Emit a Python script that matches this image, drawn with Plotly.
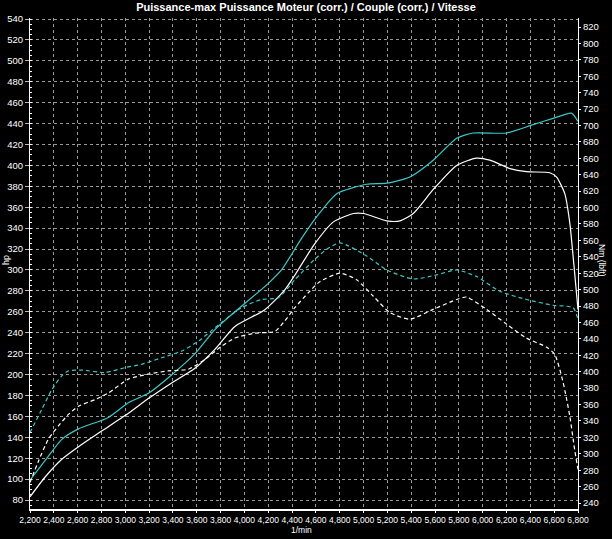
import plotly.graph_objects as go

# Power (hp, left axis)
rpm_pw_corr = [2200, 2355, 2467, 2607, 2858, 3026, 3193, 3361, 3585, 3752, 3920, 4199, 4311, 4478, 4607,
               4775, 5026, 5194, 5389, 5585, 5781, 5920, 6200, 6423, 6591, 6745, 6800]
hp_corr = [99, 122, 138, 148, 159, 173, 182, 197, 220, 243, 260, 287, 300, 330, 351,
           373, 382, 383, 389, 405, 426, 431, 431, 439, 445, 450, 442]

rpm_pw_eng = [2200, 2327, 2467, 2607, 2802, 3026, 3193, 3389, 3585, 3752, 3920, 4171, 4339, 4423, 4590,
              4747, 4914, 4998, 5194, 5306, 5417, 5585, 5781, 5948, 6060, 6228, 6367, 6563, 6619, 6689,
              6731, 6772, 6800]
hp_eng = [83, 102, 119, 131, 146, 163, 177, 192, 206, 224, 246, 262, 281, 295, 325,
          346, 354, 354, 347, 347, 354, 377, 400, 407, 405, 397, 394, 393, 389, 373,
          345, 297, 262]

# Torque (Nm, right axis)
rpm_tq_corr = [2200, 2299, 2383, 2467, 2523, 2634, 2830, 2998, 3137, 3305, 3472, 3612, 3808, 3975, 4143,
               4283, 4423, 4590, 4688, 4803, 5026, 5194, 5417, 5613, 5781, 5948, 6144, 6367, 6591, 6759, 6800]
nm_corr = [326, 354, 378, 395, 401, 402, 399, 405, 409, 417, 425, 437, 460, 478, 488,
           490, 512, 537, 549, 557, 541, 524, 513, 518, 524, 516, 498, 488, 481, 478, 464]

rpm_tq_eng = [2200, 2271, 2355, 2439, 2523, 2607, 2746, 2858, 3026, 3193, 3361, 3529, 3669, 3808, 3920,
              4087, 4255, 4339, 4423, 4535, 4635, 4803, 4942, 5082, 5222, 5389, 5585, 5781, 5864, 6032,
              6200, 6367, 6535, 6605, 6675, 6731, 6772, 6800]
nm_eng = [265, 291, 318, 334, 348, 358, 366, 374, 391, 397, 401, 403, 415, 431, 441,
          447, 449, 462, 478, 496, 510, 520, 512, 492, 472, 464, 476, 488, 491, 476,
          458, 441, 430, 421, 387, 346, 305, 281]

CYAN = "#3cc8c8"
WHITE = "#ffffff"
FONT = "Liberation Sans Narrow, Arial Narrow, Liberation Sans, Arial, sans-serif"

fig = go.Figure()
fig.add_trace(go.Scatter(x=rpm_pw_corr, y=hp_corr, mode="lines",
                         line=dict(color=CYAN, width=1.2, shape="spline", smoothing=0.6)))
fig.add_trace(go.Scatter(x=rpm_pw_eng, y=hp_eng, mode="lines",
                         line=dict(color=WHITE, width=1.2, shape="spline", smoothing=0.6)))
fig.add_trace(go.Scatter(x=rpm_tq_corr, y=nm_corr, mode="lines", yaxis="y2",
                         line=dict(color=CYAN, width=1.2, dash="4px,3px", shape="spline", smoothing=0.6)))
fig.add_trace(go.Scatter(x=rpm_tq_eng, y=nm_eng, mode="lines", yaxis="y2",
                         line=dict(color=WHITE, width=1.2, dash="4px,3px", shape="spline", smoothing=0.6)))

grid = dict(showgrid=True, gridcolor="#9a9a9a", gridwidth=1, griddash="3px,3px")
ytickfont = dict(family=FONT, size=9.5, color="white")
xtickfont = dict(family=FONT, size=8.5, color="white")

fig.update_layout(
    width=612, height=539,
    margin=dict(l=30, r=34, t=18, b=30, autoexpand=False),
    paper_bgcolor="black", plot_bgcolor="black",
    showlegend=False,
    title=dict(text="<b>Puissance-max Puissance Moteur (corr.) / Couple (corr.) / Vitesse</b>",
               x=0.5, xanchor="center", y=0.986, yanchor="middle",
               font=dict(family=FONT, size=11, color="white")),
    xaxis=dict(range=[2200, 6800], dtick=200, tick0=2200, tickformat=",d", tickangle=0,
               automargin=False,
               showline=True, linecolor="white", linewidth=2, ticks="outside",
               ticklen=2, tickcolor="white", tickfont=xtickfont, zeroline=False, **grid),
    yaxis=dict(range=[71.4, 541], dtick=20, tick0=80, automargin=False,
               showline=True, linecolor="white", linewidth=1, ticks="outside",
               ticklen=4, tickcolor="#bbbbbb", tickfont=ytickfont, zeroline=False,
               minor=dict(dtick=5, ticklen=2, tickcolor="white", ticks="inside", showgrid=False),
               **grid),
    yaxis2=dict(range=[232.7, 831], dtick=20, tick0=240, overlaying="y", side="right",
                automargin=False,
                showline=True, linecolor="white", linewidth=1, ticks="outside",
                ticklen=2, tickcolor="white", tickfont=ytickfont, showgrid=False, zeroline=False),
    annotations=[
        dict(text="hp", x=0, y=0.507, xref="paper", yref="paper", showarrow=False,
             xanchor="center", yanchor="middle", xshift=-24,
             textangle=-90, font=dict(family=FONT, size=9, color="white")),
        dict(text="Nm (lbft)", x=1, y=0.507, xref="paper", yref="paper", showarrow=False,
             xanchor="center", yanchor="middle", xshift=24,
             textangle=90, font=dict(family=FONT, size=8.5, color="white")),
        dict(text="1/min", x=0.5, y=0, xref="paper", yref="paper", showarrow=False,
             xanchor="center", yanchor="middle", yshift=-21, xshift=-3,
             font=dict(family=FONT, size=8.5, color="white")),
    ],
)

fig.write_html("out.html", config={"displayModeBar": False},
               post_script="document.body.style.margin='0';document.body.style.background='black';")
